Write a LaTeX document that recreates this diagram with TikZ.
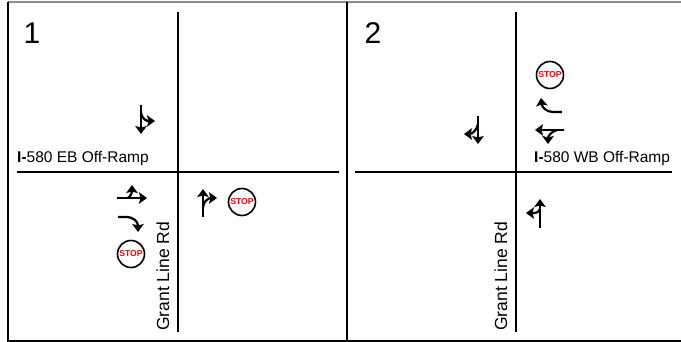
\documentclass[tikz,border=0pt]{standalone}
\usepackage{fontspec}
\setmainfont{Liberation Sans}
\usetikzlibrary{arrows.meta}

\begin{document}
\begin{tikzpicture}[x=1pt, y=-1pt,
        % Define the styles for the roads, lane arrows and signs
        road/.style={line width=2pt, black},
        lane/.style={line width=2.2pt, black, -{Stealth[length=8pt, width=11.5pt, inset=1.5pt]}},
        stopsign/.style={draw=black, line width=1.6pt, fill=white, circle, minimum size=27pt, inner sep=0pt,
            text=red, font=\fontsize{8.6}{9}\selectfont\bfseries},
        panelnum/.style={inner sep=0pt, font=\fontsize{30}{32}\selectfont},
        rampname/.style={inner sep=0pt, font=\fontsize{15.5}{18}\selectfont},
        roadname/.style={inner sep=0pt, font=\fontsize{17.5}{20}\selectfont}]

        \useasboundingbox (0, 0) rectangle (681, 342);

        % 1. Draw the frame and the divider
        \draw[line width=2pt, black!45] (8, 2) -- (681, 2);
        \draw[road] (8, 2) -- (8, 341) -- (681, 341);
        \draw[road] (347, 2) -- (347, 341);

        % 2. Define the ends of the roads
        \coordinate (Wnorth) at (178, 12);
        \coordinate (Wsouth) at (178, 332);
        \coordinate (Wwest) at (17, 172);
        \coordinate (Weast) at (339, 172);
        \coordinate (Enorth) at (516, 12);
        \coordinate (Esouth) at (516, 332);
        \coordinate (Ewest) at (355, 172);
        \coordinate (Eeast) at (672, 172);

        % 3. Draw the two intersections
        \draw[road] (Wnorth) -- (Wsouth);
        \draw[road] (Wwest) -- (Weast);
        \draw[road] (Enorth) -- (Esouth);
        \draw[road] (Ewest) -- (Eeast);

        % 4. Panel numbers and road names
        \node[panelnum] (numone) at (32, 33) {1};
        \node[panelnum] (numtwo) at (373, 33) {2};
        \node[rampname, anchor=base west] (rampeb) at (17, 163) {{\bfseries I-}580 EB Off-Ramp};
        \node[rampname, anchor=base west] (rampwb) at (534, 163) {{\bfseries I-}580 WB Off-Ramp};
        \node[roadname, anchor=base west, rotate=90] (grantw) at (169, 331) {Grant Line Rd};
        \node[roadname, anchor=base west, rotate=90] (grante) at (507, 331) {Grant Line Rd};

        % 5. Stop signs
        \node[stopsign] (stopsw) at (131, 254) {STOP};
        \node[stopsign] (stopse) at (242, 202) {STOP};
        \node[stopsign] (stopne) at (550, 75) {STOP};

        % 6. Lane arrows at intersection 1
        \draw[lane] (141, 105) -- (141, 134);
        \draw[lane] (141, 112) .. controls (142, 120) and (147, 121) .. (155, 121);
        \draw[lane] (117, 198) -- (147, 198);
        \draw[lane] (128, 198) .. controls (131, 196) and (132, 192) .. (132, 185);
        \draw[lane] (118, 217) -- (126, 217) .. controls (134, 217) and (138, 222) .. (138, 232);
        \draw[lane] (203, 217) -- (203, 189);
        \draw[lane] (203, 208) .. controls (203, 202) and (208, 198) .. (217, 198);

        % 7. Lane arrows at intersection 2
        \draw[lane] (562, 112) -- (553, 112) .. controls (546, 112) and (542, 107) .. (541, 98);
        \draw[lane] (564, 130) -- (535, 130);
        \draw[lane] (557, 130) .. controls (552, 131) and (548, 136) .. (548, 144);
        \draw[lane] (478, 116) -- (478, 144);
        \draw[lane] (478, 124) .. controls (477, 130) and (472, 134) .. (464, 134);
        \draw[lane] (540, 228) -- (540, 199);
        \draw[lane] (540, 209) .. controls (538, 214) and (533, 213) .. (526, 213);

\end{tikzpicture}
\end{document}
